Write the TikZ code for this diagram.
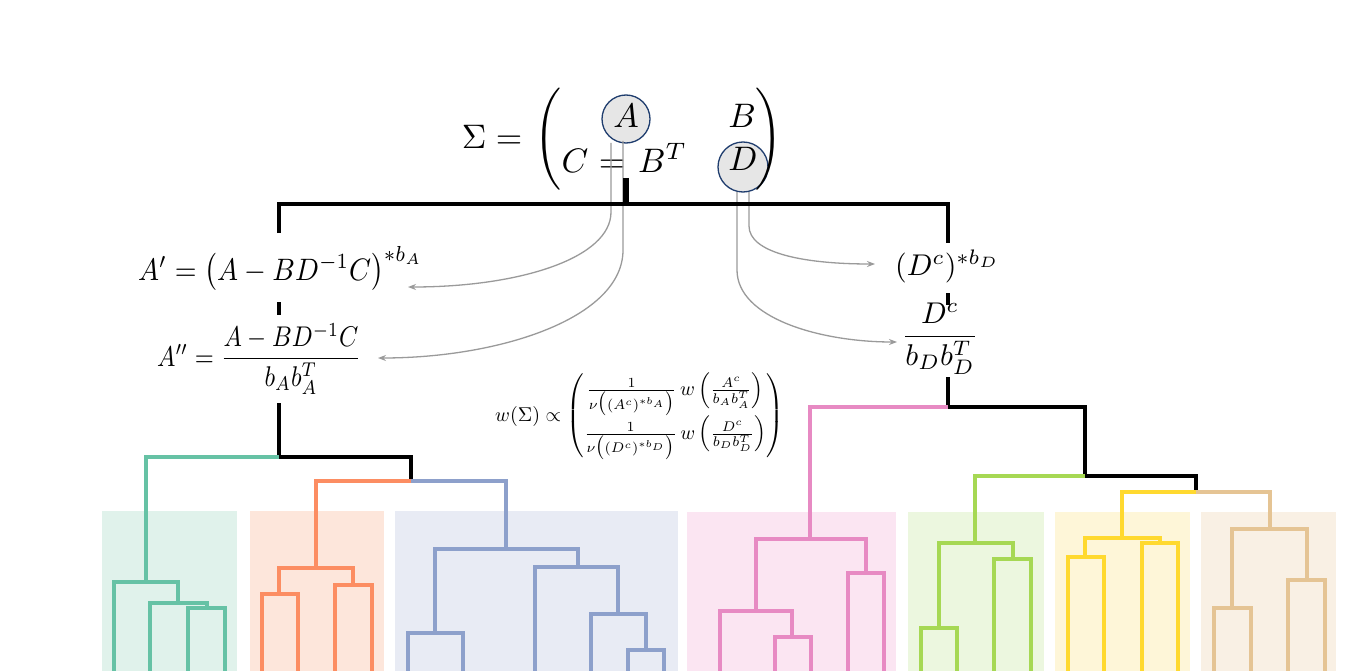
\documentclass[tikz,border=0pt]{standalone}
\usepackage{graphicx}
\usepackage{amsmath}
\usetikzlibrary{arrows.meta}
\definecolor{cgreen}{HTML}{66C2A5}
\definecolor{corange}{HTML}{FC8D62}
\definecolor{cblue}{HTML}{8DA0CB}
\definecolor{cpink}{HTML}{E78AC3}
\definecolor{clime}{HTML}{A6D854}
\definecolor{cyellow}{HTML}{FFD92F}
\definecolor{ctan}{HTML}{E5C494}
\definecolor{bgreen}{HTML}{E0F2EB}
\definecolor{borange}{HTML}{FDE6DB}
\definecolor{bblue}{HTML}{E8EBF4}
\definecolor{bpink}{HTML}{FBE5F2}
\definecolor{blime}{HTML}{ECF7DF}
\definecolor{byellow}{HTML}{FEF6D8}
\definecolor{btan}{HTML}{F9F0E4}
\definecolor{arrgrey}{HTML}{9A9A9A}
\definecolor{circfill}{HTML}{E6E6E6}
\definecolor{circline}{HTML}{1F3D6E}
\newcommand{\msc}[1]{\scalebox{3.4}{#1}}
\newcommand{\fsc}[1]{\scalebox{2.8}[3.1]{#1}}
\newcommand{\hsc}[1]{\scalebox{2.45}[2.85]{#1}}
\newcommand{\gsc}[1]{\scalebox{3.0}{#1}}
\newcommand{\wsc}[1]{\scalebox{2.0}{#1}}
\begin{document}
\begin{tikzpicture}[x=1pt,y=-1pt,
  blk/.style={line width=4pt,black},
  tree/.style={line width=4pt},
  arr/.style={draw=arrgrey,line width=1.3pt,-{Stealth[length=8pt,width=6pt]}},
  tx/.style={inner sep=0pt},
  circ/.style={circle,fill=circfill,draw=circline,line width=1.3pt,minimum size=48pt,inner sep=0pt}]
\fill[white] (0,0) rectangle (1348,671);
\useasboundingbox (0,0) rectangle (1348,671);

% cluster backgrounds
\fill[bgreen] (102,511) rectangle (237,671);
\fill[borange] (250,511) rectangle (384,671);
\fill[bblue] (395,511) rectangle (678,671);
\fill[bpink] (687,512) rectangle (896,671);
\fill[blime] (908,512) rectangle (1044,671);
\fill[byellow] (1055,512) rectangle (1190,671);
\fill[btan] (1201,512) rectangle (1336,671);

% matrix
\node[circ] (cA) at (626,119) {};
\node[circ,minimum size=50pt] (cD) at (743,167) {};
\node[tx,anchor=base] (sig) at (492,149) {\msc{$\Sigma =$}};
\node[tx] (lp) at (550,139) {\msc{$\left(\vrule height 11pt depth 11pt width 0pt\right.$}};
\node[tx] (rp) at (767,139) {\msc{$\left.\vrule height 11pt depth 11pt width 0pt\right)$}};
\node[tx,anchor=base] (A) at (626,128) {\msc{$A$}};
\node[tx,anchor=base] (B) at (742,128) {\msc{$B$}};
\node[tx,anchor=base] (C) at (575,172) {\msc{$C$}};
\node[tx,anchor=base] (eq) at (612,172) {\msc{$=$}};
\node[tx,anchor=base west] (BT) at (638,172) {\msc{$B^T$}};
\node[tx,anchor=base] (D) at (743,171) {\msc{$D$}};

% grey arrows
\coordinate (a1s) at (611,143);
\coordinate (a2s) at (623,141);
\coordinate (d1s) at (749,192);
\coordinate (d2s) at (737,192);
\draw[arr] (a1s) -- (611,212) .. controls (611,258) and (520,287) .. (408,287);
\draw[arr] (a2s) -- (623,250) .. controls (623,318) and (500,358) .. (378,358);
\draw[arr] (d1s) -- (749,226) .. controls (749,252) and (800,264) .. (875,264);
\draw[arr] (d2s) -- (737,270) .. controls (737,318) and (820,342) .. (897,342);

% black tree
\draw[line width=6pt] (626,178) -- (626,204);
\draw[blk] (279,233) -- (279,204) -- (948,204) -- (948,243);
\draw[blk] (279,302) -- (279,315);
\draw[blk] (948,293) -- (948,305);
\draw[blk] (279,403) -- (279,457) -- (411,457) -- (411,481);
\draw[blk] (948,377) -- (948,407) -- (1085,407) -- (1085,476) -- (1196,476) -- (1196,492);

% green
\draw[tree,cgreen] (279,457) -- (146,457) -- (146,582);
\draw[tree,cgreen] (114,671) -- (114,582) -- (178,582) -- (178,603);
\draw[tree,cgreen] (150,671) -- (150,603) -- (207,603) -- (207,608);
\draw[tree,cgreen] (188,671) -- (188,608) -- (225,608) -- (225,671);
% orange
\draw[tree,corange] (411,481) -- (316,481) -- (316,568);
\draw[tree,corange] (279,594) -- (279,568) -- (353,568) -- (353,585);
\draw[tree,corange] (262,671) -- (262,594) -- (298,594) -- (298,671);
\draw[tree,corange] (335,671) -- (335,585) -- (372,585) -- (372,671);
% blue
\draw[tree,cblue] (411,481) -- (506,481) -- (506,549);
\draw[tree,cblue] (435,633) -- (435,549) -- (578,549) -- (578,567);
\draw[tree,cblue] (408,671) -- (408,633) -- (463,633) -- (463,671);
\draw[tree,cblue] (535,671) -- (535,567) -- (618,567) -- (618,614);
\draw[tree,cblue] (591,671) -- (591,614) -- (646,614) -- (646,650);
\draw[tree,cblue] (628,671) -- (628,650) -- (664,650) -- (664,671);
% pink
\draw[tree,cpink] (948,407) -- (810,407) -- (810,539);
\draw[tree,cpink] (756,611) -- (756,539) -- (866,539) -- (866,573);
\draw[tree,cpink] (720,671) -- (720,611) -- (792,611) -- (792,637);
\draw[tree,cpink] (775,671) -- (775,637) -- (811,637) -- (811,671);
\draw[tree,cpink] (848,671) -- (848,573) -- (884,573) -- (884,671);
% lime
\draw[tree,clime] (1085,476) -- (975,476) -- (975,543);
\draw[tree,clime] (939,628) -- (939,543) -- (1013,543) -- (1013,559);
\draw[tree,clime] (921,671) -- (921,628) -- (957,628) -- (957,671);
\draw[tree,clime] (994,671) -- (994,559) -- (1031,559) -- (1031,671);
% yellow
\draw[tree,cyellow] (1196,492) -- (1122,492) -- (1122,538);
\draw[tree,cyellow] (1085,557) -- (1085,538) -- (1160,538) -- (1160,543);
\draw[tree,cyellow] (1068,671) -- (1068,557) -- (1104,557) -- (1104,671);
\draw[tree,cyellow] (1142,671) -- (1142,543) -- (1178,543) -- (1178,671);
% tan
\draw[tree,ctan] (1196,492) -- (1270,492) -- (1270,529);
\draw[tree,ctan] (1232,608) -- (1232,529) -- (1307,529) -- (1307,580);
\draw[tree,ctan] (1214,671) -- (1214,608) -- (1251,608) -- (1251,671);
\draw[tree,ctan] (1288,671) -- (1288,580) -- (1325,580) -- (1325,671);

% formulas
\node[tx,anchor=base west] (Ap) at (138,280) {\fsc{$A' = \bigl(A - BD^{-1}C\bigr)^{*b_A}$}};
\node[tx,anchor=base west] (App) at (157,366) {\hsc{$A'' = \dfrac{A - BD^{-1}C}{b_A b_A^T}$}};
\node[tx,anchor=base west] (Dp) at (895,275) {\gsc{$(D^c)^{*b_D}$}};
\node[tx,anchor=base] (Dpp) at (940,344) {\gsc{$\dfrac{D^c}{b_D b_D^T}$}};
\node[tx,anchor=base west] (w) at (495,421) {\wsc{$w(\Sigma) \propto \begin{pmatrix} \frac{1}{\nu\bigl((A^c)^{*b_A}\bigr)}\, w\left(\frac{A^c}{b_A b_A^T}\right) \\ \frac{1}{\nu\bigl((D^c)^{*b_D}\bigr)}\, w\left(\frac{D^c}{b_D b_D^T}\right)\end{pmatrix}$}};
\end{tikzpicture}
\end{document}
